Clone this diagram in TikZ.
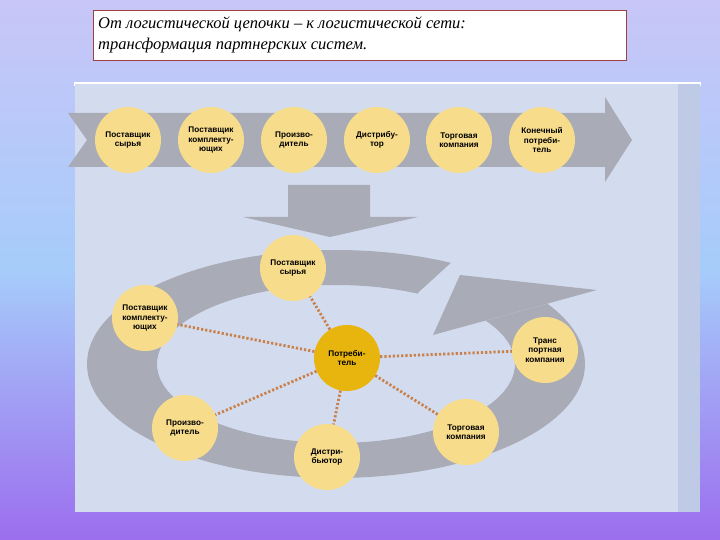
\documentclass[tikz,border=0pt]{standalone}
\usepackage{fontspec}
\usetikzlibrary{shapes.geometric}
\setmainfont{Liberation Sans}
\newfontfamily\titlefont{Liberation Serif}
\begin{document}
\begin{tikzpicture}[x=1pt,y=-1pt,
  bub/.style={ellipse,fill=nodey,minimum width=66pt,minimum height=66pt,inner sep=0pt,align=center,font=\bfseries\fontsize{8.2}{9.4}\selectfont},
  hub/.style={bub,fill=hubc},
  link/.style={draw=dotc,line width=2.8pt,dash pattern=on 2.2pt off 2pt}]
\definecolor{nodey}{HTML}{F7DC8C}
\definecolor{hubc}{HTML}{E8B40E}
\definecolor{dotc}{HTML}{C9804A}
\definecolor{arr}{HTML}{A9ACB6}
\definecolor{pane}{HTML}{D3DCEE}
\definecolor{strip}{HTML}{BFCAE6}
\useasboundingbox (0,0) rectangle (720,540);
\shade[top color={rgb,255:red,200;green,198;blue,248},bottom color={rgb,255:red,156;green,110;blue,238},middle color={rgb,255:red,166;green,204;blue,250}] (0,0) rectangle (720,540);
% title
\node[draw={rgb,255:red,160;green,64;blue,64},line width=1pt,fill=white,minimum width=533pt,minimum height=50pt,anchor=north west] (tbox) at (93,10) {};
\node[anchor=west,align=left,font=\titlefont\itshape\fontsize{16.5}{21}\selectfont,inner sep=0pt] (title) at (98,35) {От логистической цепочки – к логистической сети:\\трансформация партнерских систем.};
% panel
\fill[white] (74,82) rectangle (701,86);
\fill[pane] (75,84) rectangle (700,512);
\fill[strip] (678,84) rectangle (700,512);
% top arrow
\fill[arr] (68,113) -- (605,113) -- (605,97) -- (632,140) -- (605,182) -- (605,167) -- (68,167) -- (87,140) -- cycle;
% down arrow
\fill[arr] (288,185) -- (370,185) -- (370,217) -- (418,217) -- (330,237) -- (243,217) -- (288,217) -- cycle;
% ring
\fill[arr,even odd rule] (336,364) ellipse [x radius=249,y radius=114] (336,364) ellipse [x radius=179,y radius=79];
\fill[pane] (418,293) -- (452,262) -- (452,228) -- (640,228) -- (640,290) -- (597,290) -- (433,335) -- (418,335) -- cycle;
\fill[arr] (433,335) -- (460,275) -- (597,290) -- cycle;
% chain nodes
\node[bub] (c1) at (128,140) {Поставщик\\сырья};
\node[bub] (c2) at (211,140) {Поставщик\\комплекту-\\ющих};
\node[bub] (c3) at (294,140) {Произво-\\дитель};
\node[bub] (c4) at (377,140) {Дистрибу-\\тор};
\node[bub] (c5) at (459,140) {Торговая\\компания};
\node[bub] (c6) at (542,140) {Конечный\\потреби-\\тель};
% network nodes
\node[hub] (h) at (347,358) {Потреби-\\тель};
\node[bub] (n1) at (293,268) {Поставщик\\сырья};
\node[bub] (n2) at (145,318) {Поставщик\\комплекту-\\ющих};
\node[bub] (n3) at (185,428) {Произво-\\дитель};
\node[bub] (n4) at (327,457) {Дистри-\\бьютор};
\node[bub] (n5) at (466,432) {Торговая\\компания};
\node[bub] (n6) at (545,350) {Транс\\портная\\компания};
\foreach \n in {n1,n2,n3,n4,n5,n6} \draw[link] (h) -- (\n);
\end{tikzpicture}
\end{document}
